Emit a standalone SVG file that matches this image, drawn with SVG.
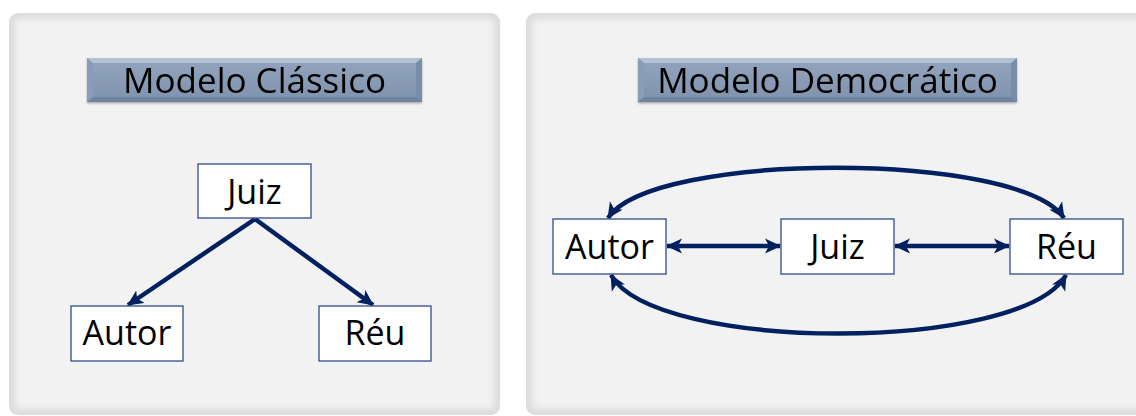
<svg xmlns="http://www.w3.org/2000/svg" width="1136" height="416" viewBox="0 0 1136 416">
  <style>
    .panel-edge { fill: #dcdcdc; }
    .panel-face { fill: #f2f2f2; filter: url(#soft); }
    .node rect { fill: #ffffff; stroke: #2f4b8c; stroke-width: 1.3; }
    .node text, .title text { font-family: "Open Sans", "Liberation Sans", sans-serif; fill: #000000; text-anchor: middle; }
    .node text { font-size: 34px; }
    .title text { font-size: 35px; }
    .link { fill: none; stroke: #002060; stroke-width: 4.5; }
  </style>
  <defs>
    <filter id="soft" x="-5%" y="-5%" width="110%" height="110%">
      <feGaussianBlur stdDeviation="3"/>
    </filter>
    <linearGradient id="bevelFace" x1="0" y1="0" x2="0" y2="1">
      <stop offset="0" stop-color="#93a5be"/>
      <stop offset="1" stop-color="#7f92ad"/>
    </linearGradient>
    <filter id="shadow" x="-5%" y="-20%" width="110%" height="150%">
      <feDropShadow dx="0" dy="1.5" stdDeviation="1.2" flood-color="#000000" flood-opacity="0.3"/>
    </filter>
    <!-- swept-back arrowhead -->
    <marker id="head" viewBox="0 0 16 16" refX="15" refY="8" markerWidth="16" markerHeight="16" markerUnits="userSpaceOnUse" orient="auto-start-reverse">
      <path d="M0,0.5 L16,8 L0,15.5 L4,8 z" fill="#002060"/>
    </marker>
  </defs>

  <!-- background -->
  <rect x="0" y="0" width="1136" height="416" fill="#ffffff"/>

  <!-- panels -->
  <g id="panel-classico">
    <rect class="panel-edge" x="9" y="13" width="491" height="402" rx="9"/>
    <rect class="panel-face" x="15" y="19" width="479" height="390" rx="4"/>
  </g>
  <g id="panel-democratico">
    <rect class="panel-edge" x="526" y="13" width="620" height="402" rx="9"/>
    <rect class="panel-face" x="532" y="19" width="620" height="390" rx="4"/>
  </g>

  <!-- titles -->
  <g id="title-classico" class="title" filter="url(#shadow)">
    <rect x="87" y="58" width="335" height="44" fill="url(#bevelFace)"/>
    <polygon points="87,58 422,58 416,63 93,63" fill="#b3c1d4"/>
    <polygon points="87,58 93,63 93,97 87,102" fill="#8a9db7"/>
    <polygon points="422,58 416,63 416,97 422,102" fill="#7a8da8"/>
    <polygon points="87,102 93,97 416,97 422,102" fill="#71849f"/>
    <text x="254.5" y="93">Modelo Clássico</text>
  </g>
  <g id="title-democratico" class="title" filter="url(#shadow)">
    <rect x="638" y="58" width="379" height="44" fill="url(#bevelFace)"/>
    <polygon points="638,58 1017,58 1011,63 644,63" fill="#b3c1d4"/>
    <polygon points="638,58 644,63 644,97 638,102" fill="#8a9db7"/>
    <polygon points="1017,58 1011,63 1011,97 1017,102" fill="#7a8da8"/>
    <polygon points="638,102 644,97 1011,97 1017,102" fill="#71849f"/>
    <text x="827.5" y="93">Modelo Democrático</text>
  </g>

  <!-- connectors -->
  <g id="connectors">
    <line class="link" x1="255" y1="219" x2="128" y2="305" marker-end="url(#head)"/>
    <line class="link" x1="255" y1="219" x2="373" y2="305" marker-end="url(#head)"/>
    <line class="link" x1="667" y1="246" x2="780" y2="246" marker-start="url(#head)" marker-end="url(#head)"/>
    <line class="link" x1="895" y1="246" x2="1009" y2="246" marker-start="url(#head)" marker-end="url(#head)"/>
    <path class="link" d="M608,218 C652,151 1020,151 1064,218" marker-start="url(#head)" marker-end="url(#head)"/>
    <path class="link" d="M611,275 C655,353 1022,353 1066,275" marker-start="url(#head)" marker-end="url(#head)"/>
  </g>

  <!-- left model nodes -->
  <g id="c-juiz" class="node">
    <rect x="198" y="164" width="113" height="54"/>
    <text x="254.5" y="204">Juiz</text>
  </g>
  <g id="c-autor" class="node">
    <rect x="71" y="306" width="112" height="55"/>
    <text x="127" y="345">Autor</text>
  </g>
  <g id="c-reu" class="node">
    <rect x="319" y="306" width="112" height="55"/>
    <text x="375" y="345">Réu</text>
  </g>

  <!-- right model nodes -->
  <g id="d-autor" class="node">
    <rect x="553" y="219" width="113" height="55"/>
    <text x="609.5" y="259">Autor</text>
  </g>
  <g id="d-juiz" class="node">
    <rect x="781" y="219" width="113" height="55"/>
    <text x="837.5" y="259">Juiz</text>
  </g>
  <g id="d-reu" class="node">
    <rect x="1010" y="219" width="113" height="55"/>
    <text x="1066.5" y="259">Réu</text>
  </g>
</svg>
